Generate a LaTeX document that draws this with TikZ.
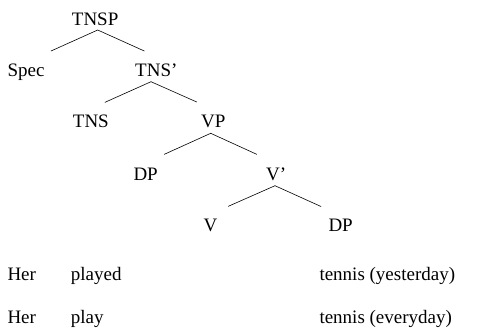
\documentclass[tikz,border=0pt]{standalone}
\usepackage{fontspec}
\setmainfont{Liberation Serif}
\begin{document}
\begin{tikzpicture}[x=1pt,y=-1pt,
  lbl/.style={anchor=base west,inner sep=0pt,font=\fontsize{19}{22}\selectfont},
  br/.style={line width=0.6pt,line cap=round}]
\useasboundingbox (0,0) rectangle (481,335);
% tree labels
\node[lbl] (tnsp) at (71.7,25) {TNSP};
\node[lbl] (spec) at (7.3,76) {Spec};
\node[lbl] (tnsbar) at (135,76) {TNS’};
\node[lbl] (tns) at (72.7,127.7) {TNS};
\node[lbl] (vp) at (201,127.7) {VP};
\node[lbl] (dp1) at (133.3,180) {DP};
\node[lbl] (vbar) at (266,180) {V’};
\node[lbl] (v) at (203.3,231.7) {V};
\node[lbl] (dp2) at (328.3,231.7) {DP};
% example rows
\node[lbl] (her1) at (7.3,280.7) {Her};
\node[lbl] (played) at (70.7,280.7) {played};
\node[lbl] (tennis1) at (319.3,280.7) {tennis (yesterday)};
\node[lbl] (her2) at (7.3,323) {Her};
\node[lbl] (play) at (70.7,323) {play};
\node[lbl] (tennis2) at (319.3,323) {tennis (everyday)};
% branch points
\coordinate (a1) at (97.7,30);   \coordinate (l1) at (51,51);     \coordinate (r1) at (144.3,51);
\coordinate (a2) at (151,81.7);  \coordinate (l2) at (105,102.3); \coordinate (r2) at (196.7,102);
\coordinate (a3) at (210.7,133.3); \coordinate (l3) at (164.3,154.3); \coordinate (r3) at (256.7,154.3);
\coordinate (a4) at (275,185.7); \coordinate (l4) at (228.3,206.3); \coordinate (r4) at (321,206.5);
\draw[br] (l1) -- (a1) -- (r1);
\draw[br] (l2) -- (a2) -- (r2);
\draw[br] (l3) -- (a3) -- (r3);
\draw[br] (l4) -- (a4) -- (r4);
\end{tikzpicture}
\end{document}
